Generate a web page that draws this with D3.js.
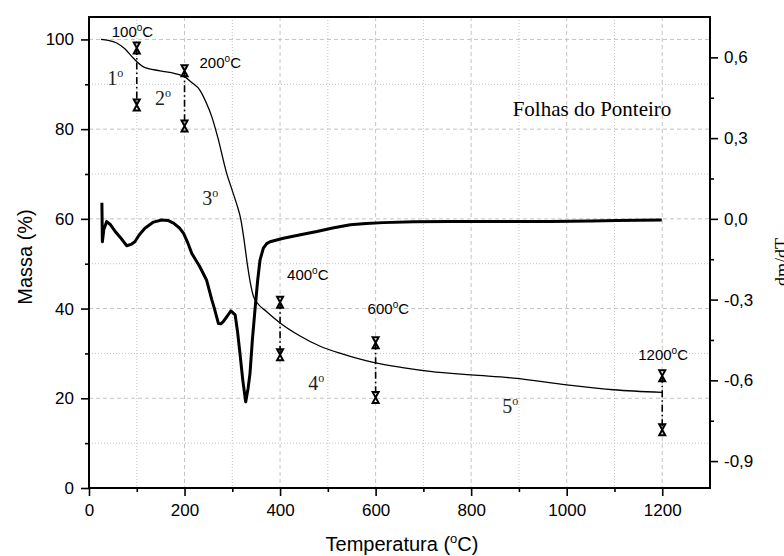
<!DOCTYPE html>
<html>
<head>
<meta charset="utf-8">
<script src="https://cdn.jsdelivr.net/npm/d3@7"></script>
<style>
body { margin: 0; background: #fff; }
svg { display: block; }
</style>
</head>
<body>
<svg id="chart" width="784" height="556"></svg>
<script>
// TG curve (massa %)
var tgTemp = [25, 40, 58, 75, 93, 114, 149, 180, 200, 215, 232, 245, 257, 270, 288, 300, 310, 318, 325, 332, 338, 344, 352, 372, 400, 440, 484, 530, 595, 660, 714, 800, 889, 1000, 1098, 1200];
var tgMass = [100, 99.8, 99.2, 97.9, 95.8, 93.9, 93.0, 92.4, 91.7, 90.4, 88.7, 86, 82.8, 78, 70.2, 66.3, 63, 59.8, 55, 49.5, 45.6, 42.8, 41.3, 39.3, 36.8, 34.0, 31.6, 29.9, 28.0, 26.8, 26.0, 25.2, 24.5, 23.0, 21.9, 21.3];

// DTG curve (dm/dT), right axis
var dtgTemp = [27, 28, 31, 37, 44, 54, 66, 79, 88, 96, 105, 117, 135, 152, 165, 177, 190, 198, 207, 215, 232, 246, 257, 262, 271, 276, 281, 290, 297, 306, 311, 316, 322, 328, 333, 337, 342, 348, 353, 358, 365, 372, 379, 407, 440, 477, 510, 547, 580, 616, 680, 756, 860, 965, 1050, 1105, 1150, 1199];
var dtgRate = [0.06, -0.085, -0.04, -0.01, -0.02, -0.045, -0.07, -0.10, -0.095, -0.085, -0.06, -0.035, -0.012, -0.004, -0.006, -0.016, -0.035, -0.054, -0.09, -0.128, -0.178, -0.227, -0.30, -0.33, -0.389, -0.39, -0.382, -0.36, -0.342, -0.357, -0.42, -0.50, -0.60, -0.68, -0.63, -0.575, -0.45, -0.327, -0.23, -0.153, -0.109, -0.092, -0.085, -0.072, -0.06, -0.047, -0.034, -0.022, -0.017, -0.014, -0.011, -0.010, -0.010, -0.010, -0.008, -0.006, -0.005, -0.004];

// temperature marks (range bars)
var markTemp = [100, 200, 400, 600, 1200];
var markHigh = [98.1, 93.0, 41.4, 32.4, 25.0];
var markLow = [85.4, 80.7, 29.7, 20.2, 13.0];
var markText = ["100", "200", "400", "600", "1200"];

var stageText = ["1", "2", "3", "4", "5"];

var xTicks = [0, 200, 400, 600, 800, 1000, 1200];
var xMinor = [100, 300, 500, 700, 900, 1100];
var massTicks = [0, 20, 40, 60, 80, 100];
var massMinor = [10, 30, 50, 70, 90];
var rateTicks = [-0.9, -0.6, -0.3, 0.0, 0.3, 0.6];
var rateMinor = [-0.75, -0.45, -0.15, 0.15, 0.45];

// layout only
var markLabelOffset = [[-25, -11], [15, -3], [7, -22], [-8, -29], [-24, -16]];
var stagePos = [[38, 89.8], [138, 85.4], [237, 63.1], [459, 21.8], [865, 16.7]];

var svg = d3.select("#chart"),
    pL = 89, pR = 710, pT = 17, pB = 488;

var x = d3.scaleLinear().domain([0, 1300]).range([pL, pR]);
var yMass = d3.scaleLinear().domain([0, 105]).range([pB, pT]);
var yRate = d3.scaleLinear().domain([-1.0, 0.75]).range([pB, pT]);

var sans = "'Liberation Sans', Arial, sans-serif",
    serif = "'Liberation Serif', 'Times New Roman', serif";

// grid
var grid = svg.append("g").attr("stroke", "#c4c4c4").attr("stroke-width", 1);
grid.selectAll("line.vmaj").data(xTicks.slice(1)).enter().append("line")
    .attr("x1", d => x(d)).attr("x2", d => x(d)).attr("y1", pT).attr("y2", pB)
    .attr("stroke-dasharray", "4,3");
grid.selectAll("line.vmin").data(xMinor).enter().append("line")
    .attr("x1", d => x(d)).attr("x2", d => x(d)).attr("y1", pT).attr("y2", pB)
    .attr("stroke-dasharray", "1,2");
grid.selectAll("line.hmaj").data(massTicks.slice(1)).enter().append("line")
    .attr("y1", d => yMass(d)).attr("y2", d => yMass(d)).attr("x1", pL).attr("x2", pR)
    .attr("stroke-dasharray", "4,3");
grid.selectAll("line.hmin").data(massMinor).enter().append("line")
    .attr("y1", d => yMass(d)).attr("y2", d => yMass(d)).attr("x1", pL).attr("x2", pR)
    .attr("stroke-dasharray", "1,2");

// axes
function styleAxis(g) {
    g.select(".domain").remove();
    g.selectAll(".tick line").attr("stroke", "#000").attr("stroke-width", 1.6);
    g.selectAll(".tick text").attr("font-family", sans).attr("font-size", 17).attr("fill", "#000");
}

svg.append("g").attr("transform", `translate(0,${pB})`)
    .call(d3.axisBottom(x).tickValues(xTicks).tickSize(8).tickPadding(8).tickFormat(d3.format("d")))
    .call(styleAxis);
svg.append("g").attr("transform", `translate(0,${pB})`)
    .call(d3.axisBottom(x).tickValues(xMinor).tickSize(4).tickFormat(""))
    .call(styleAxis);

svg.append("g").attr("transform", `translate(${pL},0)`)
    .call(d3.axisLeft(yMass).tickValues(massTicks).tickSize(8).tickPadding(7))
    .call(styleAxis);
svg.append("g").attr("transform", `translate(${pL},0)`)
    .call(d3.axisLeft(yMass).tickValues(massMinor).tickSize(4).tickFormat(""))
    .call(styleAxis);

svg.append("g").attr("transform", `translate(${pR},0)`)
    .call(d3.axisRight(yRate).tickValues(rateTicks).tickSize(8).tickPadding(6)
        .tickFormat(d => d.toFixed(1).replace(".", ",")))
    .call(styleAxis);
svg.append("g").attr("transform", `translate(${pR},0)`)
    .call(d3.axisRight(yRate).tickValues(rateMinor).tickSize(4).tickFormat(""))
    .call(styleAxis);

// frame
svg.append("rect")
    .attr("x", pL).attr("y", pT)
    .attr("width", pR - pL).attr("height", pB - pT)
    .attr("fill", "none").attr("stroke", "#000").attr("stroke-width", 2);

// curves
var tgLine = d3.line()
    .x((d, i) => x(tgTemp[i]))
    .y(d => yMass(d))
    .curve(d3.curveMonotoneX);
svg.append("path").datum(tgMass)
    .attr("d", tgLine)
    .attr("fill", "none").attr("stroke", "#000").attr("stroke-width", 1.3);

var dtgLine = d3.line()
    .x((d, i) => x(dtgTemp[i]))
    .y(d => yRate(d))
    .curve(d3.curveLinear);
svg.append("path").datum(dtgRate)
    .attr("d", dtgLine)
    .attr("fill", "none").attr("stroke", "#000").attr("stroke-width", 3)
    .attr("stroke-linejoin", "round");

// range marks
var marks = svg.append("g").selectAll("g").data(markTemp).enter().append("g");
marks.append("line")
    .attr("x1", d => x(d)).attr("x2", d => x(d))
    .attr("y1", (d, i) => yMass(markHigh[i])).attr("y2", (d, i) => yMass(markLow[i]))
    .attr("stroke", "#000").attr("stroke-width", 1.6)
    .attr("stroke-dasharray", "7,3,1.5,3");
var hourglass = "M-3,-5.5L3,-5.5L-3,5.5L3,5.5Z";
marks.append("path")
    .attr("d", hourglass)
    .attr("transform", (d, i) => `translate(${x(d)},${yMass(markHigh[i])})`)
    .attr("fill", "none").attr("stroke", "#000").attr("stroke-width", 2);
marks.append("path")
    .attr("d", hourglass)
    .attr("transform", (d, i) => `translate(${x(d)},${yMass(markLow[i])})`)
    .attr("fill", "none").attr("stroke", "#000").attr("stroke-width", 2);

var degLabel = marks.append("text")
    .attr("x", (d, i) => x(d) + markLabelOffset[i][0])
    .attr("y", (d, i) => yMass(markHigh[i]) + markLabelOffset[i][1])
    .attr("font-family", sans).attr("font-size", 15).attr("fill", "#000");
degLabel.append("tspan").text((d, i) => markText[i]);
degLabel.append("tspan").attr("font-size", 10).attr("dy", -6).text("o");
degLabel.append("tspan").attr("dy", 6).text("C");

// stage numbers
var stages = svg.append("g").selectAll("text").data(stageText).enter().append("text")
    .attr("x", (d, i) => x(stagePos[i][0]))
    .attr("y", (d, i) => yMass(stagePos[i][1]))
    .attr("font-family", serif).attr("font-size", 20).attr("fill", "#222");
stages.append("tspan").text(d => d);
stages.append("tspan").attr("font-size", 12).attr("dy", -8).text("o");

// sample name
svg.append("text")
    .attr("x", 592).attr("y", 116)
    .attr("text-anchor", "middle")
    .attr("font-family", serif).attr("font-size", 21)
    .text("Folhas do Ponteiro");

// axis titles
var xTitle = svg.append("text")
    .attr("x", 402).attr("y", 551)
    .attr("text-anchor", "middle")
    .attr("font-family", sans).attr("font-size", 20);
xTitle.append("tspan").text("Temperatura (");
xTitle.append("tspan").attr("font-size", 13).attr("dy", -8).text("o");
xTitle.append("tspan").attr("dy", 8).text("C)");

svg.append("text")
    .attr("transform", "translate(32,257) rotate(-90)")
    .attr("text-anchor", "middle")
    .attr("font-family", sans).attr("font-size", 20)
    .text("Massa (%)");

svg.append("text")
    .attr("transform", "translate(788,262) rotate(-90)")
    .attr("text-anchor", "middle")
    .attr("font-family", serif).attr("font-size", 18)
    .text("dm/dT");
</script>
</body>
</html>
